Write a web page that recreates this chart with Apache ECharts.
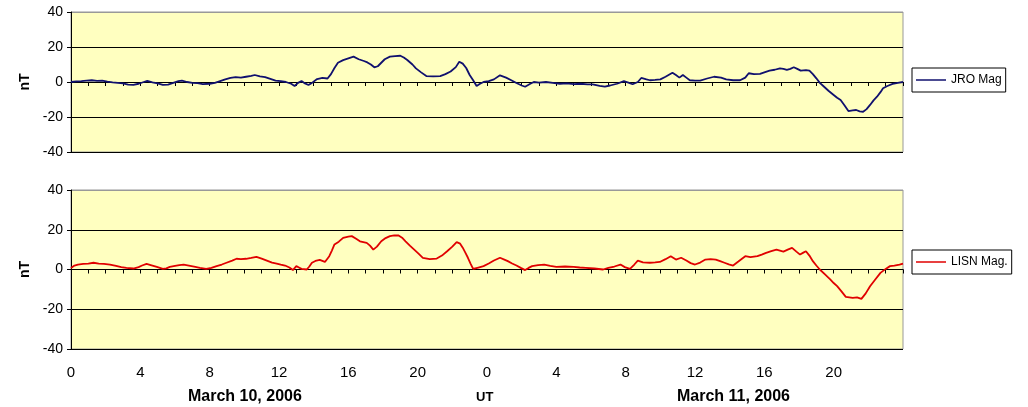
<!DOCTYPE html>
<html>
<head>
<meta charset="utf-8">
<script src="https://cdn.jsdelivr.net/npm/echarts@6/dist/echarts.min.js"></script>
<style>
html,body{margin:0;padding:0;background:#fff;}
#chart{width:1028px;height:407px;}
</style>
</head>
<body>
<div id="chart"></div>
<script>
// UT hours since March 10, 2006 00:00
const jroHours = [0,0.3,0.6,0.9,1.2,1.5,1.8,2.1,2.4,2.7,3.0,3.3,3.6,3.9,4.2,4.4,4.7,5.0,5.3,5.6,5.9,6.2,6.4,6.7,7.0,7.3,7.6,8.0,8.3,8.6,8.9,9.2,9.5,9.8,10.1,10.4,10.6,10.9,11.2,11.5,11.8,12.1,12.4,12.7,12.9,13.1,13.3,13.5,13.7,13.9,14.2,14.5,14.8,15.0,15.2,15.4,15.7,16.0,16.3,16.6,16.9,17.1,17.3,17.5,17.7,17.9,18.1,18.4,18.7,19.0,19.2,19.4,19.7,19.9,20.2,20.5,20.9,21.3,21.6,21.9,22.2,22.4,22.6,22.8,23.0,23.2,23.4,23.6,23.8,24.1,24.4,24.75,25.1,25.4,25.7,26.0,26.2,26.5,26.7,27.0,27.4,27.8,28.2,28.6,29.0,29.4,29.8,30.1,30.5,30.8,31.1,31.5,31.9,32.2,32.4,32.7,32.9,33.2,33.4,33.7,34.0,34.3,34.7,34.9,35.1,35.3,35.5,35.7,36.0,36.3,36.7,37.1,37.5,37.8,38.2,38.6,38.9,39.1,39.4,39.75,40.0,40.3,40.6,40.9,41.1,41.3,41.5,41.7,41.9,42.1,42.4,42.6,42.8,43.0,43.2,43.4,43.7,44.0,44.2,44.4,44.6,44.85,45.1,45.3,45.5,45.7,45.9,46.1,46.3,46.5,46.7,46.85,47.1,47.4,47.7,48];
const jroMag = [0,0.3,0.5,0.8,1,0.7,0.8,0.2,-0.2,-0.5,-0.8,-1.5,-1.7,-1,0,0.6,-0.2,-0.8,-1.7,-1.5,-0.5,0.5,0.8,0,-0.5,-0.7,-1.2,-1,-0.5,0.5,1.5,2.3,2.8,2.5,3,3.5,4,3.2,2.8,1.8,0.8,0.5,0,-1,-2.3,-0.5,0.6,-0.8,-1.7,-0.5,1.7,2.3,2,4.5,8,11,12.5,13.5,14.5,13,12,11.2,10,8.4,9,11,13,14.5,14.8,15,14,12.6,10,7.8,5.5,3.4,3.2,3.4,4.5,6,8.5,11.6,10.5,8,4,1,-2.3,-1,0,0.5,1.5,3.8,2.5,1,-0.6,-2,-2.7,-1,0,-0.3,0,-0.5,-1,-0.8,-1.2,-1,-1.3,-1.3,-2.2,-2.7,-2,-1,0.5,-0.5,-1.3,0,2.3,1.5,1,1.2,1.5,3,5.3,4,2.5,4,2.5,1,0.8,0.8,2,3,2.5,1.5,1,1,2.5,5,4.5,4.6,5.5,6.5,7,7.8,7.5,6.9,7.5,8.4,7.5,6.5,6.8,6.5,4.5,2.1,-0.5,-2.3,-5,-7.4,-9,-10.3,-13,-16.6,-16.2,-16,-16.8,-17,-15.5,-13.1,-10.5,-8.4,-5.8,-3.6,-2.3,-1.1,-0.5,0];

const lisnHours = [0,0.2,0.4,0.7,1.0,1.3,1.6,1.9,2.25,2.6,2.9,3.2,3.6,3.9,4.1,4.36,4.6,4.95,5.3,5.5,5.7,6.0,6.25,6.5,6.8,7.1,7.44,7.8,8.1,8.4,8.7,8.97,9.3,9.55,9.8,10.1,10.4,10.7,11.0,11.3,11.6,11.87,12.1,12.35,12.6,12.8,13.0,13.15,13.3,13.6,13.75,13.9,14.1,14.35,14.65,14.9,15.05,15.2,15.45,15.7,16.0,16.2,16.45,16.67,17.06,17.25,17.44,17.65,17.9,18.15,18.4,18.65,18.9,19.1,19.3,19.55,19.8,20.05,20.3,20.7,21.1,21.4,21.7,22.0,22.25,22.45,22.6,22.75,22.9,23.05,23.2,23.5,23.8,24.1,24.4,24.75,25.0,25.2,25.45,25.7,25.95,26.2,26.4,26.6,26.95,27.3,27.65,28.0,28.5,29.0,29.35,29.7,30.2,30.7,31.0,31.35,31.7,31.95,32.25,32.5,32.7,33.0,33.4,33.7,33.97,34.3,34.6,34.9,35.2,35.5,35.75,36.0,36.3,36.6,36.9,37.2,37.45,37.7,37.95,38.2,38.5,38.9,39.2,39.6,39.85,40.1,40.4,40.7,40.9,41.1,41.35,41.6,41.85,42.06,42.25,42.4,42.6,42.8,43.0,43.2,43.5,43.8,44.0,44.2,44.45,44.7,45.1,45.35,45.6,45.85,46.1,46.4,46.7,47.0,47.25,47.5,47.8,48];
const lisnMag = [0.8,2,2.5,2.8,3,3.4,3,2.8,2.5,1.8,1.2,0.8,0.5,1.2,2,2.8,2.2,1.3,0.3,0.6,1.3,1.8,2.2,2.5,2,1.5,0.8,0.3,0.8,1.7,2.5,3.4,4.5,5.4,5.2,5.4,5.8,6.4,5.5,4.5,3.5,3,2.5,2,1,-0.3,1.7,1,0.3,0,1.5,3.4,4.3,4.8,3.8,6.7,9.5,12.6,14,15.9,16.5,16.8,15.5,14.2,13.4,12,10,11.5,14.2,15.8,16.8,17.2,17.1,16,14.2,12,10,8,5.9,5.2,5.5,7,9.2,11.5,13.8,13,11,8.5,5.9,3,0.3,1,1.7,3,4.5,5.9,5,4.2,3,2,0.8,-0.3,0.8,1.7,2.2,2.5,1.8,1.3,1.5,1.3,1,0.8,0.5,0,0.8,1.5,2.5,1.2,0.3,2.5,4.5,3.6,3.4,3.6,3.8,5.2,6.7,5,5.9,4.5,3.2,2.5,3.5,5,5.2,5,4.2,3.4,2.6,2,4,6.7,6.2,6.7,7.5,8.4,9.2,10,9.5,9,10,10.9,9,7.5,8.5,9.2,7,4.2,2,0,-2.5,-5,-6.8,-8.4,-11,-13.8,-14.3,-14,-14.8,-12,-8.4,-5,-1.7,0.3,1.7,2,2.5,3];

const yTickValues = [-40, -20, 0, 20, 40];
const seriesNames = ['JRO Mag', 'LISN Mag.'];
const dateLabels = ['March 10, 2006', 'UT', 'March 11, 2006'];

function zip(a, b) { return a.map((h, i) => [h, b[i]]); }

const FONT = 'Liberation Sans, Arial, sans-serif';

function xAxisCfg(idx, showLabels) {
  return {
    type: 'value', gridIndex: idx, min: 0, max: 48, interval: 1,
    axisLine: { show: true, lineStyle: { color: '#000', width: 1 } },
    axisTick: { show: true, length: 4, lineStyle: { color: '#000' } },
    splitLine: { show: false },
    axisLabel: {
      show: showLabels, color: '#000', fontFamily: FONT, fontSize: 15, margin: 16,
      formatter: function (v) {
        if (v % 4 !== 0 || v >= 48) return '';
        return String(v % 24);
      }
    }
  };
}
function yAxisCfg(idx) {
  return {
    type: 'value', gridIndex: idx, min: yTickValues[0], max: yTickValues[yTickValues.length - 1], interval: 20,
    name: 'nT', nameLocation: 'middle', nameGap: 39,
    nameTextStyle: { color: '#000', fontFamily: FONT, fontSize: 14, fontWeight: 'bold' },
    axisLine: { show: true, lineStyle: { color: '#000', width: 1 } },
    axisTick: { show: true, length: 4, lineStyle: { color: '#000' } },
    axisLabel: { color: '#000', fontFamily: FONT, fontSize: 14, margin: 8 },
    splitLine: { show: true, lineStyle: { color: ['#000', '#000', '#000', '#000', '#999'], width: 1 } }
  };
}

function legendCfg(name, top) {
  return {
    data: [name], left: 912, top: top, orient: 'vertical', borderColor: '#000', borderWidth: 1,
    padding: [6, 4, 6, 4], icon: 'rect', itemWidth: 30, itemHeight: 1.5, backgroundColor: '#fff',
    textStyle: { color: '#000', fontFamily: FONT, fontSize: 12 }
  };
}

const chart = echarts.init(document.getElementById('chart'), null, { renderer: 'canvas' });
chart.setOption({
  animation: false,
  backgroundColor: '#fff',
  grid: [
    { left: 71, top: 12, width: 832, height: 140, show: true, backgroundColor: '#FFFFC0', borderColor: '#999', borderWidth: 1 },
    { left: 71, top: 190, width: 832, height: 159, show: true, backgroundColor: '#FFFFC0', borderColor: '#999', borderWidth: 1 }
  ],
  xAxis: [xAxisCfg(0, false), xAxisCfg(1, true)],
  yAxis: [yAxisCfg(0), yAxisCfg(1)],
  legend: [legendCfg(seriesNames[0], 68), legendCfg(seriesNames[1], 250)],
  graphic: [
    { type: 'text', left: 188, top: 389, style: { text: dateLabels[0], fill: '#000', font: 'bold 16px ' + FONT } },
    { type: 'text', left: 476, top: 391, style: { text: dateLabels[1], fill: '#000', font: 'bold 13px ' + FONT } },
    { type: 'text', left: 677, top: 389, style: { text: dateLabels[2], fill: '#000', font: 'bold 16px ' + FONT } }
  ],
  series: [
    { name: seriesNames[0], type: 'line', xAxisIndex: 0, yAxisIndex: 0, symbol: 'none',
      data: zip(jroHours, jroMag), lineStyle: { color: '#10106e', width: 1.8 }, itemStyle: { color: '#10106e' } },
    { name: seriesNames[1], type: 'line', xAxisIndex: 1, yAxisIndex: 1, symbol: 'none',
      data: zip(lisnHours, lisnMag), lineStyle: { color: '#e00000', width: 1.8 }, itemStyle: { color: '#e00000' } }
  ]
});
</script>
</body>
</html>
